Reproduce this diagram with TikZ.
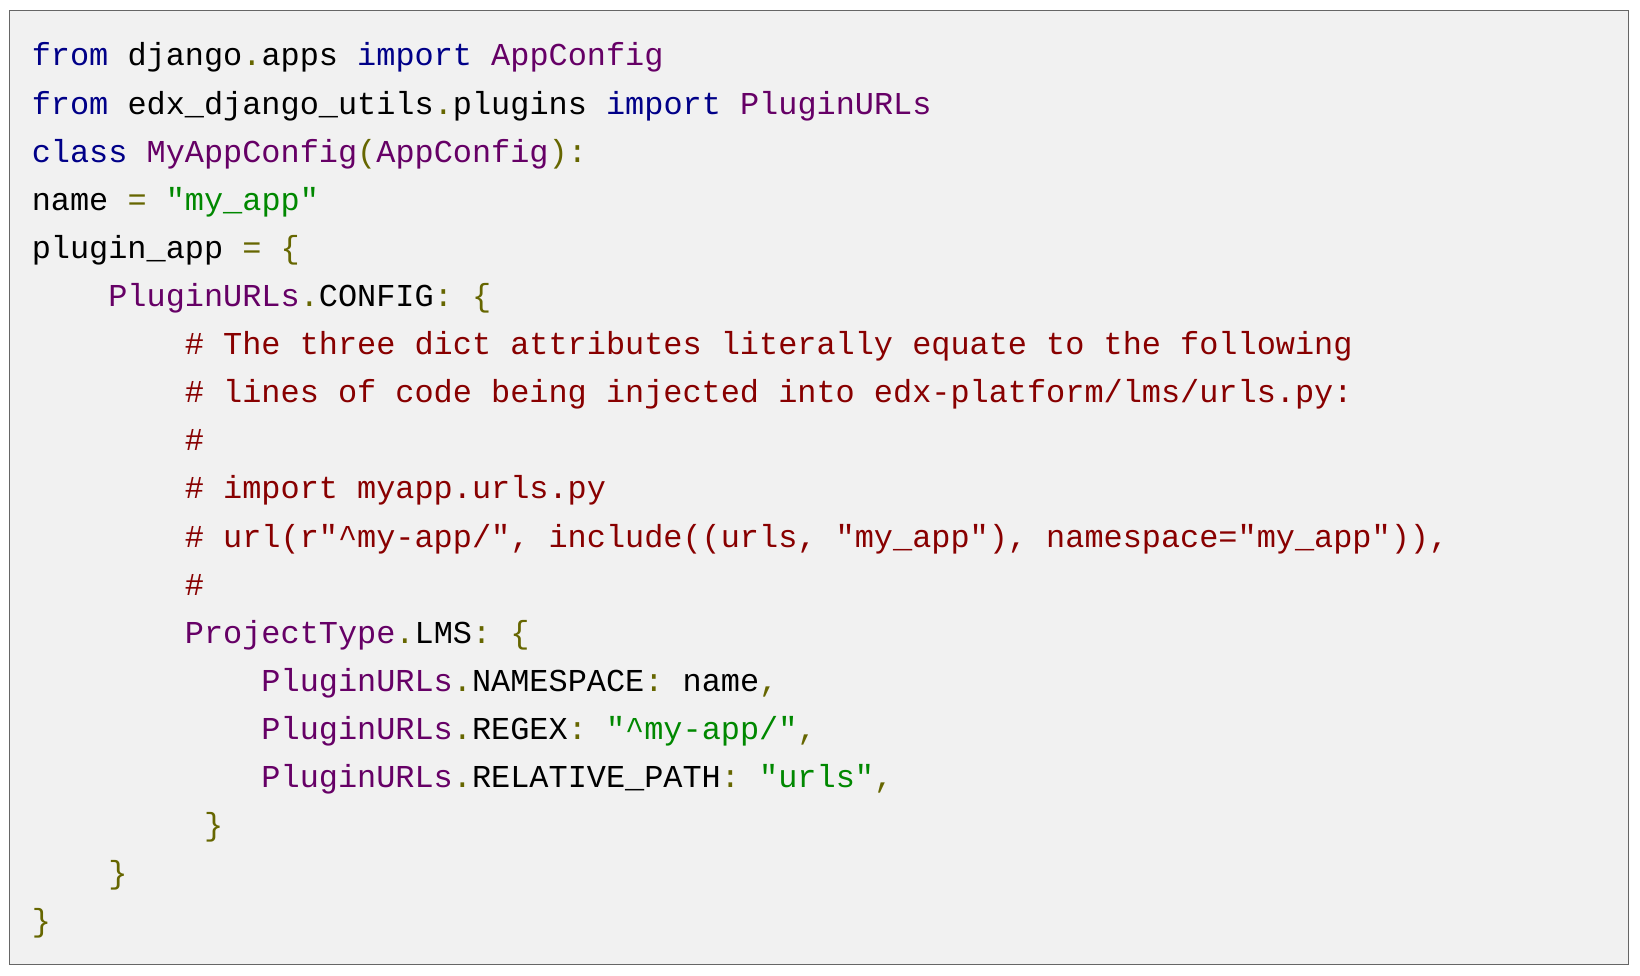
\documentclass[tikz,border=0pt]{standalone}
\usepackage{fontspec}
\setmonofont{Liberation Mono}
\definecolor{kw}{HTML}{000088}
\definecolor{cl}{HTML}{660066}
\definecolor{pu}{HTML}{666600}
\definecolor{st}{HTML}{008800}
\definecolor{cm}{HTML}{880000}
\definecolor{bg}{HTML}{F1F1F1}
\newcommand\K[1]{\textcolor{kw}{#1}}
\newcommand\C[1]{\textcolor{cl}{#1}}
\newcommand\Pn[1]{\textcolor{pu}{#1}}
\newcommand\Sg[1]{\textcolor{st}{#1}}
\newcommand\M[1]{\textcolor{cm}{#1}}
\begin{document}
\begin{tikzpicture}[x=1pt,y=1pt,
  code/.style={anchor=base west,inner sep=0pt,font=\ttfamily\fontsize{15.25pt}{18pt}\selectfont}]
\useasboundingbox (0,0) rectangle (784,-466.5);
\fill[white] (0,0) rectangle (784,-466.5);
\draw[fill=bg,draw=gray!80!black,line width=0.7pt] (4.5,-5) rectangle (778.5,-461);
\def\cw{9.15}
\newcommand\Ln[3]{\node[code] (l#1) at ({15+#2*\cw},{-31.5-(#1-1)*23}) {#3};}
\Ln{1}{0}{\K{from} django\Pn{.}apps \K{import} \C{AppConfig}}
\Ln{2}{0}{\K{from} edx\_django\_utils\Pn{.}plugins \K{import} \C{PluginURLs}}
\Ln{3}{0}{\K{class} \C{MyAppConfig}\Pn{(}\C{AppConfig}\Pn{):}}
\Ln{4}{0}{name \Pn{=} \Sg{"my\_app"}}
\Ln{5}{0}{plugin\_app \Pn{= \{}}
\Ln{6}{4}{\C{PluginURLs}\Pn{.}CONFIG\Pn{: \{}}
\Ln{7}{8}{\M{\# The three dict attributes literally equate to the following}}
\Ln{8}{8}{\M{\# lines of code being injected into edx-platform/lms/urls.py:}}
\Ln{9}{8}{\M{\#}}
\Ln{10}{8}{\M{\# import myapp.urls.py}}
\Ln{11}{8}{\M{\# url(r"\textasciicircum my-app/", include((urls, "my\_app"), namespace="my\_app")),}}
\Ln{12}{8}{\M{\#}}
\Ln{13}{8}{\C{ProjectType}\Pn{.}LMS\Pn{: \{}}
\Ln{14}{12}{\C{PluginURLs}\Pn{.}NAMESPACE\Pn{:} name\Pn{,}}
\Ln{15}{12}{\C{PluginURLs}\Pn{.}REGEX\Pn{:} \Sg{"\textasciicircum my-app/"}\Pn{,}}
\Ln{16}{12}{\C{PluginURLs}\Pn{.}RELATIVE\_PATH\Pn{:} \Sg{"urls"}\Pn{,}}
\Ln{17}{9}{\Pn{\}}}
\Ln{18}{4}{\Pn{\}}}
\Ln{19}{0}{\Pn{\}}}
\end{tikzpicture}
\end{document}
